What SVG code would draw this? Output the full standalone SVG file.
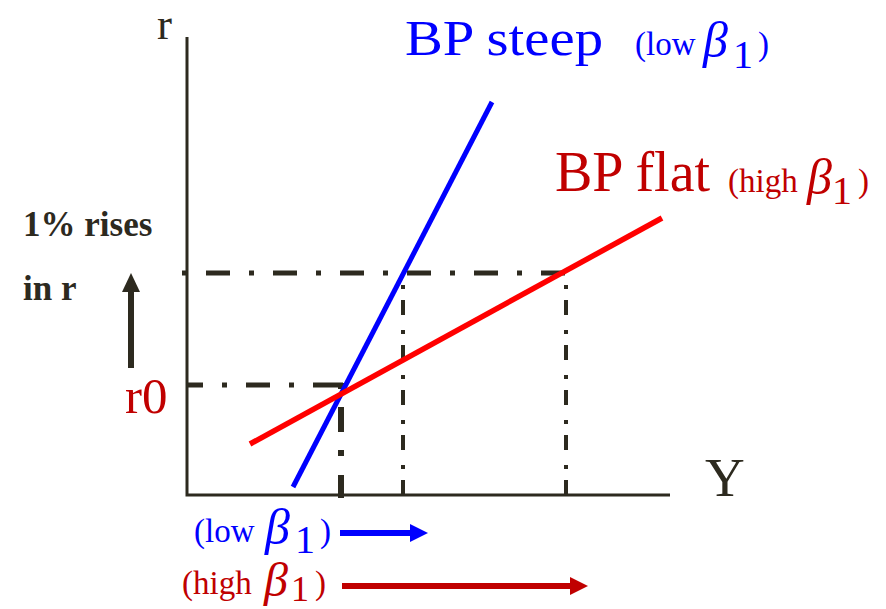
<svg xmlns="http://www.w3.org/2000/svg" width="886" height="609" viewBox="0 0 886 609">
<defs>
<style>
.t{font-family:"Liberation Serif","Times New Roman",serif}
.dk{fill:#2d2a1f}
.bl{fill:#0000ff}
.rd{fill:#c00000}
.it{font-style:italic}
.axis{stroke:#2d2a1f;stroke-width:3;fill:none}
.dh{stroke:#2d2a1f;stroke-width:5;fill:none;stroke-dasharray:24 19 4 19}
.dv{stroke:#2d2a1f;stroke-width:4;fill:none;stroke-dasharray:15 15 4 11;stroke-dashoffset:23}
</style>
</defs>
<rect width="886" height="609" fill="#ffffff"/>
<g id="axes">
<polyline class="axis" points="187,37 187,495 670,495"/>
<text class="t dk" x="157" y="39" font-size="45">r</text>
<text class="t dk" x="705" y="496" font-size="55">Y</text>
</g>
<g id="connectors">
<line class="dh" x1="182" y1="273" x2="565" y2="273" style="stroke-dasharray:5 19 24 19"/>
<line class="dh" x1="186" y1="385" x2="345" y2="385" style="stroke-dasharray:17 19 5 19 24 19 5 19 30"/>
<line class="dh" x1="341" y1="383" x2="341" y2="498" style="stroke-width:6;stroke-dasharray:6 18 25 18 6 19 24"/>
<line class="dv" x1="403" y1="278" x2="403" y2="497"/>
<line class="dv" x1="566" y1="278" x2="566" y2="497"/>
</g>
<g id="bp-steep">
<line x1="293" y1="487" x2="492" y2="102" stroke="#0000ff" stroke-width="5"/>
<text class="t bl" x="405" y="55" font-size="50" textLength="198" lengthAdjust="spacingAndGlyphs">BP steep</text>
<text class="t bl" x="635" y="55" font-size="33">(low</text>
<text class="t bl it" x="703" y="57" font-size="50">β</text>
<text class="t bl" x="733" y="68" font-size="40">1</text>
<text class="t bl" x="758" y="55" font-size="33">)</text>
</g>
<g id="bp-flat">
<line x1="250" y1="444" x2="662" y2="218" stroke="#ff0000" stroke-width="5.5"/>
<text class="t rd" x="555" y="191" font-size="56">BP flat</text>
<text class="t rd" x="728" y="192" font-size="33">(high</text>
<text class="t rd it" x="807" y="194" font-size="50">β</text>
<text class="t rd" x="832" y="204" font-size="40">1</text>
<text class="t rd" x="858" y="192" font-size="33">)</text>
</g>
<g id="rise-label">
<text class="t dk" x="23" y="236" font-size="35" font-weight="bold">1% rises</text>
<text class="t dk" x="23" y="300" font-size="35" font-weight="bold">in r</text>
<line x1="131" y1="368" x2="131" y2="290" stroke="#2d2a1f" stroke-width="6"/>
<polygon points="122,292 131,273 140,292" fill="#2d2a1f"/>
</g>
<g id="r0-label">
<text class="t rd" x="125" y="413" font-size="51">r0</text>
</g>
<g id="low-shift">
<text class="t bl" x="194" y="542" font-size="33">(low</text>
<text class="t bl it" x="265" y="544" font-size="50">β</text>
<text class="t bl" x="295" y="553" font-size="40">1</text>
<text class="t bl" x="320" y="542" font-size="33">)</text>
<line x1="340" y1="533" x2="412" y2="533" stroke="#0000ff" stroke-width="6"/>
<polygon points="410,524 428,533 410,542" fill="#0000ff"/>
</g>
<g id="high-shift">
<text class="t rd" x="182" y="594" font-size="33">(high</text>
<text class="t rd it" x="264" y="596" font-size="48">β</text>
<text class="t rd" x="291" y="601" font-size="36">1</text>
<text class="t rd" x="315" y="594" font-size="33">)</text>
<line x1="342" y1="586" x2="572" y2="586" stroke="#c00000" stroke-width="6"/>
<polygon points="570,577 588,586 570,595" fill="#c00000"/>
</g>
</svg>
